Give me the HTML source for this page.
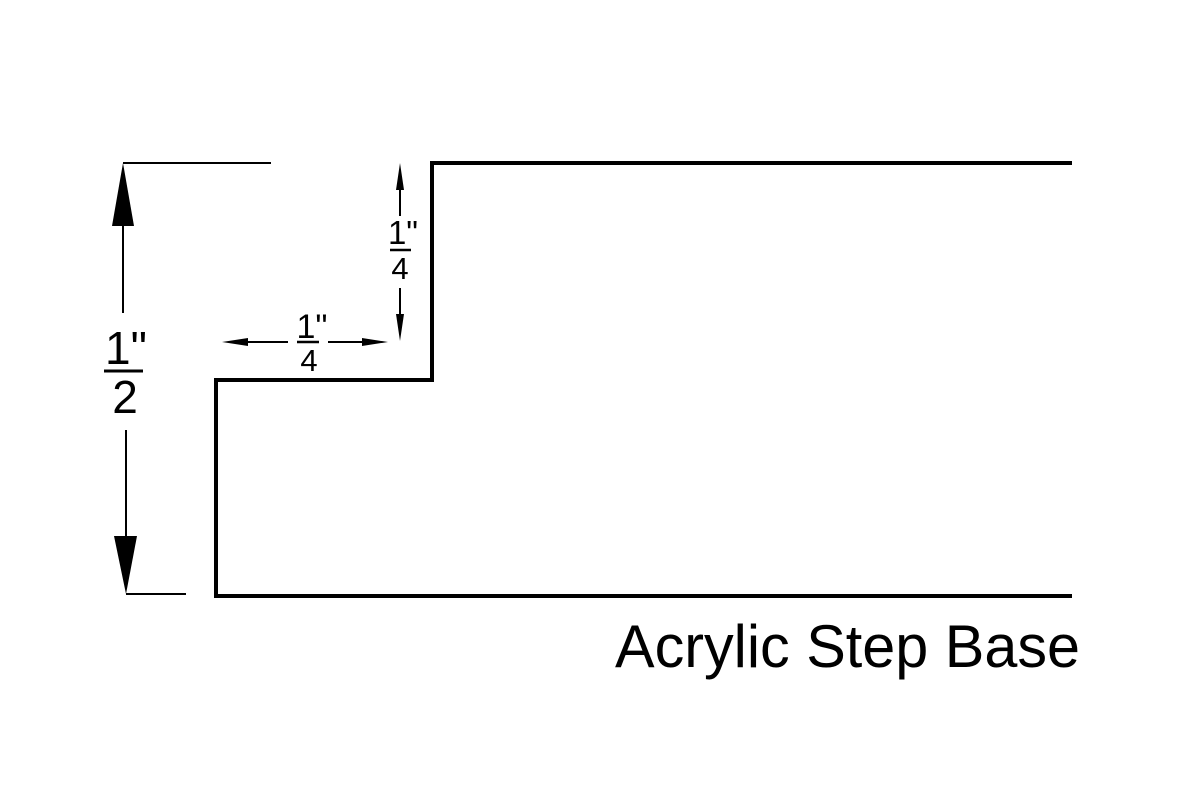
<!DOCTYPE html>
<html><head><meta charset="utf-8"><style>
html,body{margin:0;padding:0;background:#fff;width:1200px;height:800px;overflow:hidden}
</style></head><body>
<svg width="1200" height="800" xmlns="http://www.w3.org/2000/svg" font-family="Liberation Sans, sans-serif">
<rect width="1200" height="800" fill="#fff"/>
<path d="M1072,596 L216,596 L216,380 L432,380 L432,163 L1072,163" fill="none" stroke="#000" stroke-width="4" stroke-linejoin="miter"/>
<line x1="123" y1="163" x2="271" y2="163" stroke="#000" stroke-width="2"/>
<line x1="126" y1="594" x2="186" y2="594" stroke="#000" stroke-width="2"/>
<line x1="123" y1="200" x2="123" y2="313" stroke="#000" stroke-width="2"/>
<polygon points="123,163 112,226 134,226" fill="#000"/>
<line x1="126" y1="430" x2="126" y2="560" stroke="#000" stroke-width="2"/>
<polygon points="126,594 114,536 137,536" fill="#000"/>
<text x="126" y="364" font-size="46" text-anchor="middle">1"</text>
<line x1="104" y1="371" x2="143" y2="371" stroke="#000" stroke-width="3"/>
<text x="125" y="413" font-size="46" text-anchor="middle">2</text>
<line x1="400" y1="175" x2="400" y2="216" stroke="#000" stroke-width="2"/>
<polygon points="400,163 396,190 404,190" fill="#000"/>
<line x1="400" y1="288" x2="400" y2="330" stroke="#000" stroke-width="2"/>
<polygon points="400,341 396,314 404,314" fill="#000"/>
<text x="403" y="244" font-size="33" text-anchor="middle">1"</text>
<line x1="390" y1="250" x2="411" y2="250" stroke="#000" stroke-width="2.5"/>
<text x="400" y="279" font-size="31" text-anchor="middle">4</text>
<line x1="235" y1="342" x2="288" y2="342" stroke="#000" stroke-width="2"/>
<polygon points="222,342 248,338 248,346" fill="#000"/>
<line x1="328" y1="342" x2="375" y2="342" stroke="#000" stroke-width="2"/>
<polygon points="388,342 362,338 362,346" fill="#000"/>
<text x="312" y="338" font-size="34" text-anchor="middle">1"</text>
<line x1="297" y1="342" x2="319" y2="342" stroke="#000" stroke-width="2.5"/>
<text x="309" y="371" font-size="31" text-anchor="middle">4</text>
<text x="615" y="667" font-size="60" textLength="465" lengthAdjust="spacingAndGlyphs">Acrylic Step Base</text>
</svg>
</body></html>
